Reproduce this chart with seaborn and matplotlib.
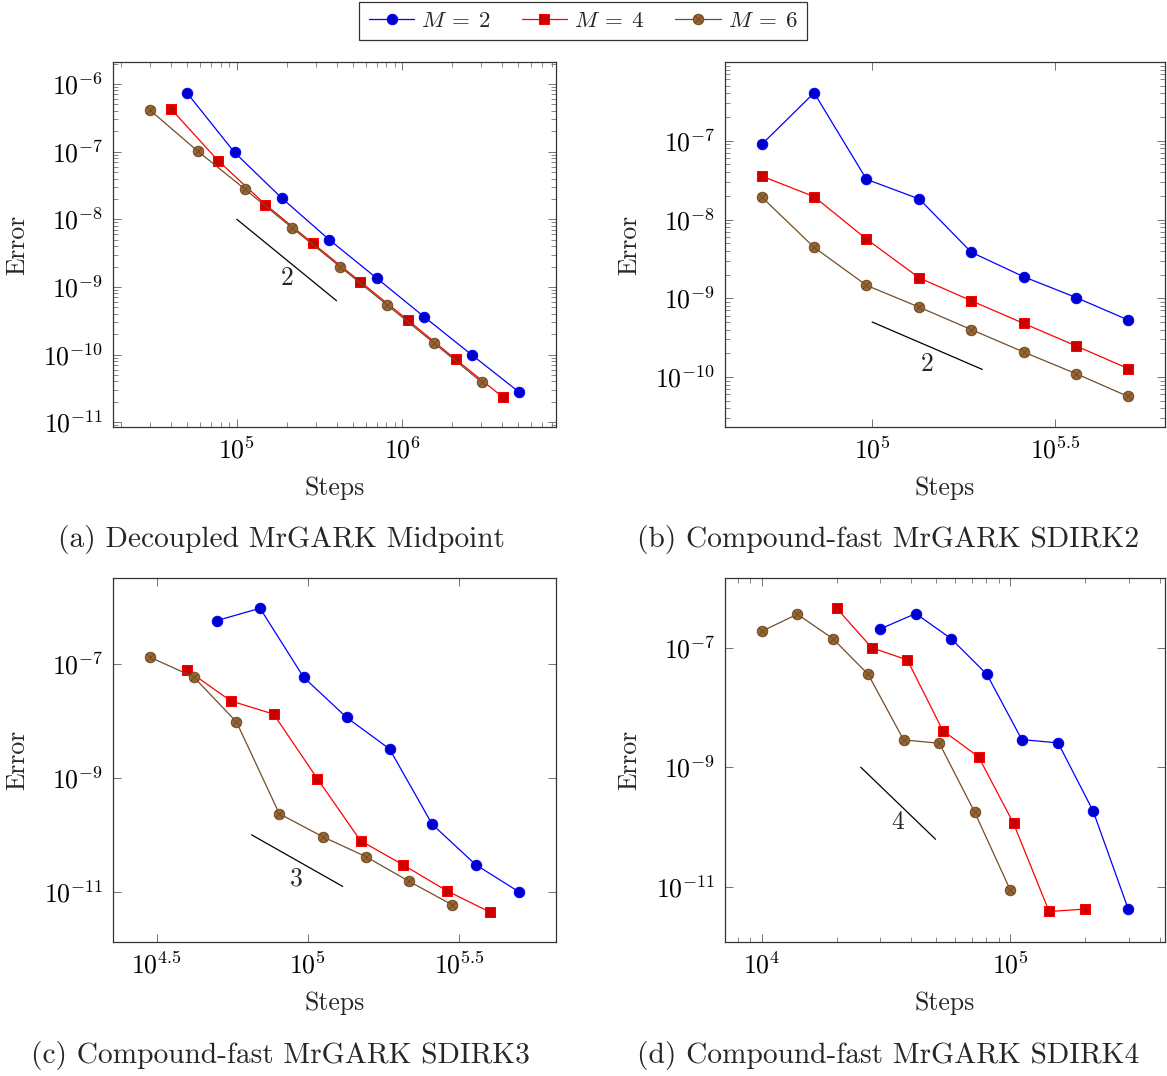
import numpy as np
import pandas as pd
import matplotlib
matplotlib.use("Agg")
import matplotlib.pyplot as plt
import seaborn as sns
from matplotlib.path import Path
from matplotlib.ticker import FixedLocator, NullLocator, LogLocator, NullFormatter

# ---------------- data ----------------
series_labels = [r"$M\:=\:2$", r"$M\:=\:4$", r"$M\:=\:6$"]

# (a) Decoupled MrGARK Midpoint
a_steps_m2 = [50000, 97000, 187500, 361000, 701000, 1355000, 2620000, 5050000]
a_err_m2 = [7.4e-7, 9.7e-8, 2.04e-8, 5.0e-9, 1.34e-9, 3.6e-10, 9.9e-11, 2.8e-11]
a_steps_m4 = [40000, 77300, 149000, 288000, 558000, 1084000, 2094000, 4018000]
a_err_m4 = [4.3e-7, 7.3e-8, 1.65e-8, 4.4e-9, 1.19e-9, 3.2e-10, 8.5e-11, 2.37e-11]
a_steps_m6 = [30000, 58000, 111700, 216600, 419000, 809000, 1560000, 3013000]
a_err_m6 = [4.08e-7, 1.02e-7, 2.8e-8, 7.4e-9, 2.0e-9, 5.4e-10, 1.46e-10, 3.9e-11]

# (b) Compound-fast MrGARK SDIRK2
b_steps = [49900, 69400, 96500, 134600, 186700, 259400, 361400, 501200]
b_err_m2 = [8.98e-8, 4.06e-7, 3.24e-8, 1.82e-8, 3.84e-9, 1.88e-9, 1.02e-9, 5.3e-10]
b_err_m4 = [3.56e-8, 1.95e-8, 5.64e-9, 1.81e-9, 9.3e-10, 4.8e-10, 2.48e-10, 1.28e-10]
b_err_m6 = [1.93e-8, 4.43e-9, 1.46e-9, 7.7e-10, 4.0e-10, 2.08e-10, 1.10e-10, 5.66e-11]

# (c) Compound-fast MrGARK SDIRK3
c_steps_m2 = [50000, 69500, 96800, 134300, 186200, 257600, 358900, 497700]
c_err_m2 = [5.65e-7, 9.3e-7, 5.77e-8, 1.14e-8, 3.2e-9, 1.53e-10, 3.0e-11, 1.01e-11]
c_steps_m4 = [40000, 55600, 77100, 107400, 149300, 207000, 287700, 399000]
c_err_m4 = [7.6e-8, 2.22e-8, 1.30e-8, 9.7e-10, 7.9e-11, 2.96e-11, 1.05e-11, 4.47e-12]
c_steps_m6 = [30100, 41900, 58100, 80500, 111900, 155600, 215800, 299200]
c_err_m6 = [1.29e-7, 5.85e-8, 9.5e-9, 2.34e-10, 9.3e-11, 4.15e-11, 1.54e-11, 6.0e-12]

# (d) Compound-fast MrGARK SDIRK4
d_steps_m2 = [30000, 41600, 57700, 80500, 111200, 155600, 215300, 297800]
d_err_m2 = [2.05e-7, 3.69e-7, 1.41e-7, 3.55e-8, 2.89e-9, 2.55e-9, 1.85e-10, 4.3e-12]
d_steps_m4 = [20000, 27700, 38500, 53500, 74500, 103000, 143200, 199100]
d_err_m4 = [4.53e-7, 9.9e-8, 6.2e-8, 4.08e-9, 1.49e-9, 1.15e-10, 3.88e-12, 4.25e-12]
d_steps_m6 = [10000, 13900, 19300, 26800, 37200, 51800, 71800, 99800]
d_err_m6 = [1.87e-7, 3.6e-7, 1.41e-7, 3.55e-8, 2.86e-9, 2.51e-9, 1.78e-10, 9.0e-12]

# reference slope lines (start/end steps, start/end error) and their labels
slope_a = ([1e5, 4e5], [1e-8, 6.25e-10], "2", (2.0e5, 1.33e-9))
slope_b = ([1e5, 2e5], [5e-10, 1.25e-10], "2", (1.416e5, 1.46e-10))
slope_c = ([65200, 130400], [1e-10, 1.25e-11], "3", (9.18e4, 1.71e-11))
slope_d = ([25000, 50000], [1e-9, 6.25e-11], "4", (3.53e4, 1.2e-10))

# tick values / labels
a_xticks = [1e5, 1e6]
a_xticklabels = ["$10^{5}$", "$10^{6}$"]
a_yticks = [1e-6, 1e-7, 1e-8, 1e-9, 1e-10, 1e-11]
a_yticklabels = ["$10^{-6}$", "$10^{-7}$", "$10^{-8}$", "$10^{-9}$", "$10^{-10}$", "$10^{-11}$"]
b_xticks = [1e5, 10 ** 5.5]
b_xticklabels = ["$10^{5}$", "$10^{5.5}$"]
b_yticks = [1e-7, 1e-8, 1e-9, 1e-10]
b_yticklabels = ["$10^{-7}$", "$10^{-8}$", "$10^{-9}$", "$10^{-10}$"]
c_xticks = [10 ** 4.5, 1e5, 10 ** 5.5]
c_xticklabels = ["$10^{4.5}$", "$10^{5}$", "$10^{5.5}$"]
c_yticks = [1e-7, 1e-9, 1e-11]
c_yticklabels = ["$10^{-7}$", "$10^{-9}$", "$10^{-11}$"]
d_xticks = [1e4, 1e5]
d_xticklabels = ["$10^{4}$", "$10^{5}$"]
d_yticks = [1e-7, 1e-9, 1e-11]
d_yticklabels = ["$10^{-7}$", "$10^{-9}$", "$10^{-11}$"]

captions = ["(a) Decoupled MrGARK Midpoint", "(b) Compound-fast MrGARK SDIRK2",
            "(c) Compound-fast MrGARK SDIRK3", "(d) Compound-fast MrGARK SDIRK4"]

# ---------------- style ----------------
sns.set_theme(style="ticks")
plt.rcParams["font.family"] = ["cmr10", "DejaVu Serif"]
plt.rcParams["mathtext.fontset"] = "cm"
plt.rcParams["axes.unicode_minus"] = False
FS = 18.5
CAP_FS = 21.2
LEG_FS = 16.5

circle = Path.unit_circle()
cross = Path([(-0.707, -0.707), (0.707, 0.707), (-0.707, 0.707), (0.707, -0.707)],
             [Path.MOVETO, Path.LINETO, Path.MOVETO, Path.LINETO])
otimes = Path.make_compound_path(circle, cross)

styles = [
    dict(color="#0000FF", marker="o", markerfacecolor="#0000CC", markeredgecolor="#0000FF", markersize=7.5),
    dict(color="#FF0000", marker="s", markerfacecolor="#CC0000", markeredgecolor="#FF0000", markersize=7),
    dict(color="#734D26", marker=otimes, markerfacecolor="#996633", markeredgecolor="#734D26", markersize=7.5),
]

W, H = 1167, 1076
fig = plt.figure(figsize=(W / 100, H / 100), dpi=100)


def make_ax(left, top, right, bottom):
    return fig.add_axes([left / W, 1 - bottom / H, (right - left) / W, (bottom - top) / H])


panels = [
    dict(box=(113, 62, 556, 427),
         series=[(a_steps_m2, a_err_m2), (a_steps_m4, a_err_m4), (a_steps_m6, a_err_m6)],
         xlim=(17900, 8.45e6), ylim=(8.5e-12, 2.11e-6),
         xt=(a_xticks, a_xticklabels), yt=(a_yticks, a_yticklabels),
         xminor=True, yminor=True, slope=slope_a),
    dict(box=(725, 62, 1165, 427),
         series=[(b_steps, b_err_m2), (b_steps, b_err_m4), (b_steps, b_err_m6)],
         xlim=(39600, 632000), ylim=(2.32e-11, 1.0e-6),
         xt=(b_xticks, b_xticklabels), yt=(b_yticks, b_yticklabels),
         xminor=False, yminor=True, slope=slope_b),
    dict(box=(113, 578, 556, 942),
         series=[(c_steps_m2, c_err_m2), (c_steps_m4, c_err_m4), (c_steps_m6, c_err_m6)],
         xlim=(22700, 661000), ylim=(1.33e-12, 3.15e-6),
         xt=(c_xticks, c_xticklabels), yt=(c_yticks, c_yticklabels),
         xminor=False, yminor=False, slope=slope_c),
    dict(box=(725, 578, 1165, 942),
         series=[(d_steps_m2, d_err_m2), (d_steps_m4, d_err_m4), (d_steps_m6, d_err_m6)],
         xlim=(7110, 419000), ylim=(1.2e-12, 1.45e-6),
         xt=(d_xticks, d_xticklabels), yt=(d_yticks, d_yticklabels),
         xminor=True, yminor=False, slope=slope_d),
]

axes = []
for p in panels:
    ax = make_ax(*p["box"])
    axes.append(ax)
    for (xs, ys), st, lab in zip(p["series"], styles, series_labels):
        df = pd.DataFrame({"Steps": xs, "Error": ys})
        sns.lineplot(data=df, x="Steps", y="Error", ax=ax, estimator=None, sort=False,
                     linewidth=0.9, label=lab, legend=False, **st)
    ax.set_xscale("log")
    ax.set_yscale("log")
    ax.set_xlim(*p["xlim"])
    ax.set_ylim(*p["ylim"])
    ax.xaxis.set_major_locator(FixedLocator(p["xt"][0]))
    ax.set_xticklabels(p["xt"][1])
    ax.yaxis.set_major_locator(FixedLocator(p["yt"][0]))
    ax.set_yticklabels(p["yt"][1])
    if p["xminor"]:
        ax.xaxis.set_minor_locator(LogLocator(base=10, subs=np.arange(2, 10), numticks=30))
    else:
        ax.xaxis.set_minor_locator(NullLocator())
    if p["yminor"]:
        ax.yaxis.set_minor_locator(LogLocator(base=10, subs=np.arange(2, 10), numticks=30))
    else:
        ax.yaxis.set_minor_locator(NullLocator())
    ax.xaxis.set_minor_formatter(NullFormatter())
    ax.yaxis.set_minor_formatter(NullFormatter())
    ax.tick_params(which="both", direction="in", top=True, right=True, colors="0.45",
                   labelcolor="black", labelsize=FS)
    ax.tick_params(which="major", length=6, width=0.7, pad=7)
    ax.tick_params(which="minor", length=3.5, width=0.6)
    for s in ax.spines.values():
        s.set_color("0.2")
        s.set_linewidth(0.9)
    ax.grid(False)
    ax.set_xlabel("Steps", fontsize=FS)
    ax.set_ylabel("Error", fontsize=FS)
    ax.xaxis.set_label_coords(0.5, -0.135)
    ax.yaxis.set_label_coords(-0.19, 0.5)
    sx, sy, stxt, spos = p["slope"]
    ax.plot(sx, sy, color="black", linewidth=0.9)
    ax.text(spos[0], spos[1], stxt, fontsize=FS, ha="center", va="center")

cap_pos = [(281, 540), (888, 540), (280, 1056), (888, 1056)]
for txt, (cx, cy) in zip(captions, cap_pos):
    fig.text(cx / W, 1 - cy / H, txt, fontsize=CAP_FS, ha="center", va="center")

handles, labels = axes[0].get_legend_handles_labels()
leg = fig.legend(handles, labels, loc="upper center", bbox_to_anchor=(583 / W, 1 - 2 / H),
                 ncol=3, frameon=True, fancybox=False, fontsize=LEG_FS, handlelength=2.0,
                 handletextpad=0.3, columnspacing=1.35, borderpad=0.4, borderaxespad=0)
leg.get_frame().set_edgecolor("black")
leg.get_frame().set_linewidth(0.9)

fig.savefig("out.png", dpi=100)
